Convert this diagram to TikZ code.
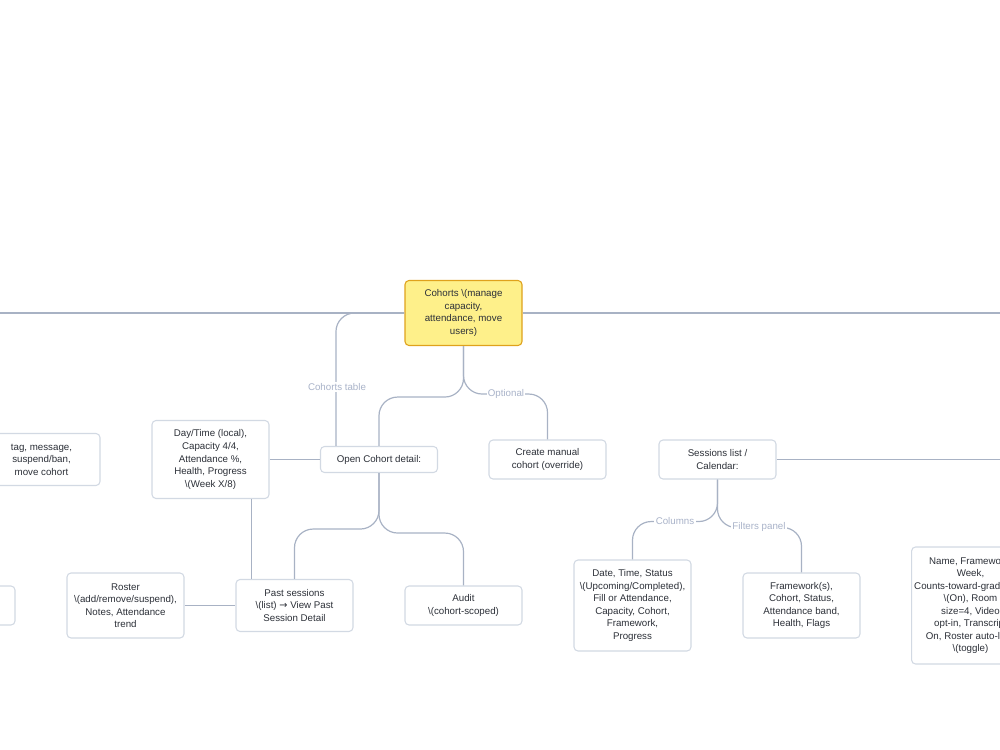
\documentclass[tikz,border=0pt]{standalone}
\usepackage{fontspec}
\setmainfont{Liberation Sans}
\newfontfamily\karrowfont{DejaVu Sans}
\definecolor{kline}{HTML}{A8B2C4}
\definecolor{kbord}{HTML}{D2D9E3}
\definecolor{ktext}{HTML}{2C3038}
\definecolor{klab}{HTML}{A9B3C9}
\definecolor{kyel}{HTML}{FEF08A}
\definecolor{korg}{HTML}{DFA21C}
\begin{document}
\begin{tikzpicture}[x=0.75pt,y=-0.75pt,
  mmbox/.style={draw=kbord,line width=0.8pt,rounded corners=3pt,fill=white,text=ktext,
    font=\fontsize{7.3}{9.4}\selectfont,align=center,minimum width=87.75pt,inner xsep=2pt,inner ysep=1pt},
  nlines/.style={minimum height={(13*#1+13)*0.75pt}},
  link/.style={draw=kline,line width=0.9pt,rounded corners=14pt},
  lbl/.style={fill=white,text=klab,font=\fontsize{7.3}{9.4}\selectfont,inner sep=1pt}]
\pgfmathsetmacro{\krowa}{459.5}
\pgfmathsetmacro{\krowb}{605.5}
\useasboundingbox (0,0) rectangle (1000,750);
\clip (0,0) rectangle (1000,750);
\node[mmbox,nlines=4,fill=kyel,draw=korg] (root) at (463.5,313) {Cohorts \textbackslash(manage\\capacity,\\attendance, move\\users)};
% middle row
\foreach \nm/\nx/\nl/\txt in {tagbox/41.5/3/{tag, message,\\suspend/ban,\\move cohort},
  daytime/210.5/5/{Day/Time (local),\\Capacity 4/4,\\Attendance \%,\\Health, Progress\\\textbackslash(Week X/8)},
  opencoh/379/1/{Open Cohort detail:},
  create/547.5/2/{Create manual\\cohort (override)},
  sessions/717.5/2/{Sessions list /\\Calendar:}}{\node[mmbox,nlines=\nl] (\nm) at (\nx,\krowa) {\txt};}
% bottom row
\foreach \nm/\nx/\nl/\txt in {leftcut/-43.5/2/{},
  roster/125.5/4/{Roster\\\textbackslash(add/remove/suspend),\\Notes, Attendance\\trend},
  pastsess/294.5/3/{Past sessions\\\textbackslash(list) {\karrowfont →} View Past\\Session Detail},
  audit/463.5/2/{Audit\\\textbackslash(cohort-scoped)},
  datecols/632.5/6/{Date, Time, Status\\\textbackslash(Upcoming/Completed),\\Fill or Attendance,\\Capacity, Cohort,\\Framework,\\Progress},
  filters/801.5/4/{Framework(s),\\Cohort, Status,\\Attendance band,\\Health, Flags},
  namebox/970.5/8/{Name, Framework,\\Week,\\Counts-toward-graduation\\\textbackslash(On), Room\\size=4, Video\\opt-in, Transcript\\On, Roster auto-lock\\\textbackslash(toggle)}}{\node[mmbox,nlines=\nl] (\nm) at (\nx,\krowb) {\txt};}
\coordinate (lfar) at (-20,313);
\coordinate (rfar) at (1020,313);
\coordinate (sfar) at (1020,\krowa);
\draw[link] (lfar) -- (root.west);
\draw[link] (root.east) -- (rfar);
\draw[link] (root.west) -| ([xshift=12pt]opencoh.north west);
\draw[link] (root.south) -- ++(0,51) -| (opencoh.north);
\draw[link] (root.south) -- ++(0,48) -| (create.north);
\draw[link] (daytime.east) -- (opencoh.west);
\draw[link] ([xshift=12pt]pastsess.north west) -- ([xshift=12pt]pastsess.north west |- daytime.south);
\draw[link] (opencoh.south) -- ++(0,56) -| (pastsess.north);
\draw[link] (opencoh.south) -- ++(0,60) -| (audit.north);
\draw[link] (roster.east) -- (pastsess.west);
\draw[link] (sessions.east) -- (sfar);
\draw[link] (sessions.south) -- ++(0,42) -| (datecols.north);
\draw[link] (sessions.south) -- ++(0,48) -| (filters.north);
% edge labels
\node[lbl] (lcoh) at (337,387) {Cohorts table};
\node[lbl] (lopt) at (506,394) {Optional};
\node[lbl] (lcol) at (675,521) {Columns};
\node[lbl] (lfil) at (759,527) {Filters panel};
\end{tikzpicture}
\end{document}
